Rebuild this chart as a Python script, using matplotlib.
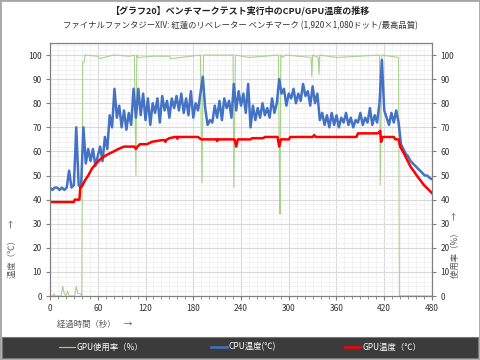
import numpy as np
import matplotlib
matplotlib.use("Agg")
import matplotlib.pyplot as plt
from matplotlib.patches import Rectangle
from matplotlib.ticker import MultipleLocator

plt.rcParams['font.family'] = ['Noto Sans CJK JP', 'DejaVu Sans']

# CPU temperature, sampled every 3 s (0..480)
cpu_time = np.arange(0, 481, 3)
cpu_temp = [
    45, 44, 45, 45, 44, 45, 44, 45, 52, 45,
    46, 70, 46, 45, 70, 55, 61, 56, 61, 54,
    58, 62, 56, 66, 61, 75, 70, 86, 74, 79,
    70, 77, 69, 76, 71, 86, 74, 86, 75, 84,
    73, 82, 71, 80, 76, 82, 72, 83, 77, 81,
    74, 82, 78, 83, 77, 84, 76, 82, 75, 85,
    74, 80, 77, 84, 91, 78, 71, 73, 72, 79,
    74, 81, 73, 82, 78, 81, 74, 88, 77, 85,
    79, 84, 76, 88, 70, 79, 73, 78, 74, 80,
    75, 78, 74, 82, 76, 80, 90, 84, 86, 79,
    84, 82, 86, 80, 84, 81, 88, 83, 85, 79,
    87, 80, 84, 73, 76, 71, 75, 70, 76, 71,
    75, 70, 74, 72, 76, 71, 74, 70, 73, 72,
    76, 71, 74, 72, 78, 71, 75, 72, 80, 98,
    77, 74, 71, 76, 72, 77, 72, 63, 61, 59,
    58, 56, 55, 54, 53, 52, 51, 50, 50, 49,
    48.5,
]

# GPU temperature
gpu_time = [0, 30, 31, 37, 38, 41, 44, 48, 53, 58, 64, 71, 80, 86, 93, 106, 108,
            110, 113, 122, 128, 141, 144, 145, 146, 150, 157, 159, 160, 161, 186,
            190, 209, 210, 211, 232, 234, 236, 252, 254, 268, 270, 286, 288, 290,
            300, 302, 330, 332, 334, 385, 387, 412, 415, 416, 418, 432, 434, 438,
            440, 445, 453, 462, 470, 480]
gpu_temp = [39, 39, 40, 40, 45, 46, 48, 50, 53, 55, 57, 58.5, 60, 61, 62, 62, 61,
            62, 63, 63, 64, 64.7, 64.7, 64, 64.7, 65.5, 66, 66, 65.3, 66, 66,
            65, 65, 64.3, 65, 65, 62, 65, 65, 65.5, 65.5, 66, 66, 62, 65,
            65, 66, 66, 66.8, 66, 66, 67.5, 67.5, 68.5, 64, 66, 66, 65, 65,
            62, 59, 53.7, 49.5, 46, 42.7]

# GPU usage (%)
use_time = [0, 4, 5, 6, 14, 16, 18, 20, 22, 24, 31, 33, 35, 38, 40, 41, 43, 44,
            60, 62, 80, 100, 106, 107, 108, 109, 110, 130, 150, 152, 189, 190,
            191, 192, 193, 230, 231, 233, 250, 287, 288, 289, 290, 292, 296, 328,
            329, 330, 337, 338, 339, 360, 414, 415, 417, 438, 439, 480]
gpu_usage = [0, 0, 1, 0, 0, 4, 1, 0, 2, 0, 0, 4, 1, 1, 0, 97, 97, 100,
             99.5, 98.5, 100, 99.5, 100, 75, 50, 100, 99, 99.5, 99.5, 98.5, 100, 70,
             47, 80, 100, 100, 45, 100, 99, 100, 60, 34, 100, 99, 100, 99,
             91, 100, 99, 92, 100, 99, 100, 46, 100, 99, 0, 0]

fig = plt.figure(figsize=(4.8, 3.6), dpi=100)
ax = fig.add_axes([50 / 480, 1 - 296 / 360, 382 / 480, 253 / 360])

ax.plot(use_time, gpu_usage, color='#a9d18e', lw=0.8, label='GPU使用率（%）', zorder=2)
ax.plot(cpu_time, cpu_temp, color='#4472c4', lw=1.8, label='CPU温度(℃)', zorder=3)
ax.plot(gpu_time, gpu_temp, color='#ff0000', lw=1.8, label='GPU温度（℃）', zorder=4)

ax.set_xlim(0, 480)
ax.set_ylim(0, 105)
ax.xaxis.set_major_locator(MultipleLocator(60))
ax.xaxis.set_minor_locator(MultipleLocator(10))
ax.yaxis.set_major_locator(MultipleLocator(10))
ax.yaxis.set_minor_locator(MultipleLocator(2))
ax.set_yticks(range(0, 101, 10))
ax.grid(which='major', color='#d9d9d9', lw=0.8)
ax.grid(which='minor', color='#f0f0f0', lw=0.6)
ax.set_axisbelow(True)
ax.tick_params(which='both', labelsize=6, colors='#808080', labelcolor='#333333',
               direction='out', pad=3)
ax.tick_params(which='major', length=3)
ax.tick_params(axis='y', which='minor', length=0)
ax.tick_params(axis='x', which='minor', length=2)
for s in ax.spines.values():
    s.set_color('#808080')
    s.set_linewidth(0.8)

ax2 = ax.twinx()
ax2.set_ylim(0, 105)
ax2.set_yticks(range(0, 101, 10))
ax2.tick_params(labelsize=6, colors='#808080', labelcolor='#333333', length=3, pad=3)
for s in ax2.spines.values():
    s.set_color('#808080')
    s.set_linewidth(0.8)

fig.text(0.5, 1 - 11 / 360, '【グラフ20】ベンチマークテスト実行中のCPU/GPU温度の推移',
         ha='center', va='center', fontsize=6.5, fontweight='bold', color='#222222')
fig.text(0.5, 1 - 26 / 360,
         'ファイナルファンタジーXIV: 紅蓮のリベレーター ベンチマーク (1,920×1,080ドット/最高品質)',
         ha='center', va='center', fontsize=6, color='#333333')
fig.text(12 / 480, 1 - 249 / 360, '温度（℃）　→', rotation=90, ha='center', va='center',
         fontsize=6, color='#595959')
fig.text(455 / 480, 1 - 245 / 360, '使用率（%）　→', rotation=90, ha='center', va='center',
         fontsize=6, color='#595959')
fig.text(57 / 480, 1 - 324 / 360, '経過時間（秒）　→', ha='left', va='center',
         fontsize=6, color='#595959')

# legend band
fig.patches.append(Rectangle((0.004, 0.006), 0.992, 0.058, transform=fig.transFigure,
                             facecolor='#3b3b3b', edgecolor='#777777', lw=0.8, zorder=0))
fig.patches.append(Rectangle((0, 0), 1, 1, transform=fig.transFigure, fill=False,
                             edgecolor='#a6a6a6', lw=2, zorder=0))
handles, labels = ax.get_legend_handles_labels()
fig.legend(handles, labels, loc='center', bbox_to_anchor=(0.5, 1 - 347 / 360), ncol=3,
           frameon=False, fontsize=6, handlelength=1.9, handletextpad=0.2,
           columnspacing=8.2, labelcolor='white')

fig.savefig('out.png', dpi=100)
